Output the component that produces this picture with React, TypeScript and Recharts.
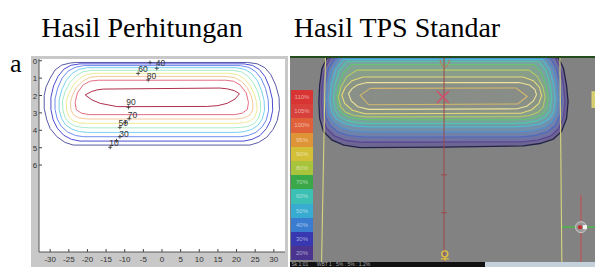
import React from 'react';
import { ScatterChart, Scatter, XAxis, YAxis, CartesianGrid, ReferenceLine, ReferenceArea } from 'recharts';

type Pt = [number, number];

// ---------- left panel: calculated isodose (%), lateral cm vs depth cm ----------
const calcLevels = [10, 20, 30, 40, 50, 60, 70, 80, 90];

const calc10: Pt[] = [[-23, 0.1], [23, 0.1], [25.6, 0.18], [27.6, 0.4], [29.2, 0.8], [30.5, 1.4], [31.4, 2.1], [31.5, 2.8], [30.9, 3.45], [29.8, 3.95], [28.1, 4.4], [25.9, 4.7], [23.6, 4.85], [-23.8, 4.85], [-26, 4.7], [-28.2, 4.37], [-30, 3.9], [-30.9, 3.4], [-31.6, 2.75], [-31.6, 2], [-31.1, 1.5], [-30, 1], [-28.7, 0.53], [-26.9, 0.25], [-24.6, 0.13], [-23, 0.1]];
const calc20: Pt[] = [[-22, 0.18], [22, 0.18], [24.3, 0.27], [26.1, 0.5], [27.6, 0.9], [28.8, 1.5], [29.6, 2.2], [29.7, 2.85], [29.1, 3.45], [28, 3.9], [26.3, 4.3], [24.2, 4.52], [22, 4.62], [-22, 4.62], [-24.3, 4.52], [-26.4, 4.28], [-28.1, 3.88], [-29.2, 3.4], [-29.8, 2.8], [-29.8, 2.1], [-29.1, 1.45], [-27.9, 0.9], [-26.3, 0.48], [-24.4, 0.26], [-22, 0.18]];
const calc30: Pt[] = [[-21, 0.28], [21, 0.28], [23.3, 0.38], [25.1, 0.62], [26.6, 1.02], [27.8, 1.6], [28.5, 2.25], [28.6, 2.85], [28, 3.4], [26.9, 3.8], [25.2, 4.12], [23.1, 4.3], [21, 4.37], [-21, 4.37], [-23.2, 4.3], [-25.3, 4.1], [-27, 3.78], [-28.1, 3.35], [-28.7, 2.8], [-28.7, 2.2], [-28, 1.58], [-26.8, 1], [-25.2, 0.6], [-23.3, 0.38], [-21, 0.28]];
const calc40: Pt[] = [[-20, 0.4], [20, 0.4], [22.3, 0.5], [24.1, 0.75], [25.6, 1.15], [26.7, 1.7], [27.4, 2.3], [27.5, 2.85], [26.9, 3.35], [25.8, 3.7], [24.1, 3.95], [22, 4.08], [20, 4.12], [-20, 4.12], [-22.1, 4.08], [-24.2, 3.93], [-25.9, 3.68], [-27, 3.3], [-27.6, 2.82], [-27.6, 2.25], [-26.9, 1.68], [-25.7, 1.13], [-24.1, 0.73], [-22.3, 0.5], [-20, 0.4]];
const calc50: Pt[] = [[-19, 0.55], [19, 0.55], [21.3, 0.64], [23.1, 0.9], [24.6, 1.3], [25.7, 1.8], [26.4, 2.35], [26.5, 2.85], [25.9, 3.3], [24.8, 3.6], [23.1, 3.78], [21, 3.84], [19, 3.86], [-19, 3.86], [-21.1, 3.84], [-23.2, 3.77], [-24.9, 3.58], [-26, 3.27], [-26.6, 2.83], [-26.7, 2.3], [-26, 1.78], [-24.8, 1.28], [-23.1, 0.88], [-21.3, 0.64], [-19, 0.55]];
const calc60: Pt[] = [[-18, 0.72], [18, 0.72], [20.3, 0.8], [22.1, 1.04], [23.6, 1.42], [24.7, 1.9], [25.4, 2.4], [25.5, 2.85], [24.9, 3.22], [23.8, 3.45], [22.1, 3.56], [20, 3.6], [-20, 3.6], [-22.1, 3.57], [-23.9, 3.45], [-25, 3.2], [-25.6, 2.83], [-25.7, 2.35], [-25, 1.88], [-23.8, 1.4], [-22.1, 1.02], [-20.3, 0.8], [-18, 0.72]];
const calc70: Pt[] = [[-17, 0.9], [17, 0.9], [19.5, 0.97], [21.4, 1.2], [22.9, 1.55], [23.9, 2], [24.4, 2.45], [24.3, 2.85], [23.6, 3.12], [22.2, 3.28], [20, 3.35], [-20, 3.35], [-22.3, 3.29], [-23.7, 3.12], [-24.4, 2.85], [-24.6, 2.42], [-24, 1.98], [-22.9, 1.52], [-21.3, 1.18], [-19.4, 0.96], [-17, 0.9]];
const calc80: Pt[] = [[-17, 1.12], [17, 1.12], [19.2, 1.18], [21, 1.4], [22.6, 1.85], [23.2, 2.4], [22.9, 2.8], [21.5, 3.02], [19.5, 3.1], [-19.5, 3.1], [-21.6, 3.02], [-23, 2.82], [-23.3, 2.4], [-22.7, 1.85], [-21.1, 1.38], [-19.2, 1.17], [-17, 1.12]];
const calc90: Pt[] = [[-15.8, 1.63], [15.5, 1.57], [17.6, 1.62], [19.4, 1.72], [20.8, 1.9], [19.6, 2.2], [17.5, 2.45], [15, 2.58], [12, 2.63], [-12, 2.64], [-16.6, 2.45], [-18.8, 2.25], [-20.6, 1.97], [-19, 1.78], [-17.5, 1.68], [-15.8, 1.63]];
const calcContours = [calc10, calc20, calc30, calc40, calc50, calc60, calc70, calc80, calc90];

// clabel text + the little "+" markers
const calcLabelText = ['40', '60', '80', '90', '70', '50', '30', '10'];
const calcLabelX = [-0.4, -5.1, -2.8, -8.3, -7.9, -10.4, -10.2, -12.9];
const calcLabelY = [0.12, 0.48, 0.88, 2.39, 3.14, 3.56, 4.21, 4.71];
const calcMarks: Pt[] = [[-1.4, 0.44], [-3.2, 0.1], [-6.4, 0.73], [-3.7, 1.1], [-9, 2.68], [-8.8, 3.33], [-9.8, 3.55], [-11.3, 3.83], [-11.3, 4.37], [-12.2, 4.6], [-13.9, 4.98]];

const xTicks = [-30, -25, -20, -15, -10, -5, 0, 5, 10, 15, 20, 25, 30];
const yTicks = [0, 1, 2, 3, 4, 5, 6];

// ---------- right panel: TPS screenshot ----------
const tps1: Pt[] = [[-29.7, 0], [29.6, 0], [30.9, 0.6], [31.7, 1.56], [32.1, 2.5], [31.7, 3.45], [30.4, 4.2], [28.3, 4.62], [24.9, 4.87], [20.6, 5], [0, 5.08], [-21.2, 5.1], [-25.4, 4.96], [-28.4, 4.68], [-30.6, 4.2], [-31.6, 3.45], [-31.8, 2.5], [-31.6, 1.56], [-31, 0.61], [-29.7, 0]];
const tps2: Pt[] = [[-28.8, 0], [28.8, 0], [30.1, 0.6], [30.9, 1.56], [31.3, 2.5], [30.9, 3.4], [29.6, 4.05], [27.6, 4.45], [24.3, 4.68], [20.2, 4.78], [-20.8, 4.8], [-24.8, 4.7], [-27.7, 4.45], [-29.8, 4.02], [-30.8, 3.4], [-31.1, 2.5], [-30.9, 1.56], [-30.3, 0.62], [-28.8, 0]];
const tps3: Pt[] = [[-27.6, 0.02], [27.6, 0.02], [29.1, 0.6], [30, 1.5], [30.4, 2.45], [30, 3.3], [28.8, 3.85], [26.8, 4.2], [23.5, 4.42], [19.6, 4.5], [-20.2, 4.5], [-24.2, 4.42], [-27, 4.2], [-29, 3.82], [-30.1, 3.3], [-30.4, 2.45], [-30.1, 1.5], [-29.3, 0.62], [-27.6, 0.02]];
const tps4: Pt[] = [[-26.6, 0.05], [26.6, 0.05], [28.2, 0.62], [29.2, 1.5], [29.6, 2.4], [29.2, 3.2], [28, 3.65], [26, 3.98], [22.8, 4.16], [19, 4.22], [-19.6, 4.22], [-23.4, 4.15], [-26.2, 3.97], [-28.2, 3.63], [-29.3, 3.18], [-29.8, 2.4], [-29.4, 1.5], [-28.4, 0.64], [-26.6, 0.05]];
const tps5: Pt[] = [[-25.6, 0.1], [25.6, 0.1], [27.3, 0.65], [28.4, 1.5], [28.8, 2.35], [28.4, 3.08], [27.2, 3.48], [25.2, 3.75], [22, 3.88], [18.4, 3.93], [-19, 3.93], [-22.6, 3.87], [-25.4, 3.73], [-27.4, 3.46], [-28.5, 3.06], [-29, 2.35], [-28.6, 1.5], [-27.5, 0.68], [-25.6, 0.1]];
const tps6: Pt[] = [[-24.6, 0.2], [24.6, 0.2], [26.4, 0.72], [27.5, 1.52], [27.9, 2.3], [27.5, 2.98], [26.3, 3.35], [24.3, 3.58], [21.3, 3.7], [17.8, 3.73], [-18.4, 3.73], [-21.9, 3.7], [-24.6, 3.57], [-26.6, 3.33], [-27.7, 2.96], [-28.1, 2.3], [-27.7, 1.52], [-26.6, 0.74], [-24.6, 0.2]];
const tps7: Pt[] = [[-23.4, 0.38], [23.4, 0.38], [25.3, 0.85], [26.5, 1.58], [27, 2.28], [26.6, 2.9], [25.4, 3.22], [23.4, 3.42], [20.6, 3.51], [17.2, 3.53], [-17.8, 3.53], [-21.1, 3.5], [-23.8, 3.4], [-25.7, 3.2], [-26.8, 2.88], [-27.2, 2.27], [-26.7, 1.58], [-25.6, 0.88], [-23.4, 0.38]];
const tps8: Pt[] = [[-22, 0.7], [22, 0.7], [24.2, 1.05], [25.6, 1.65], [26.2, 2.25], [25.7, 2.8], [24.4, 3.1], [22.2, 3.28], [19.5, 3.35], [-19.8, 3.36], [-22.8, 3.28], [-25, 3.08], [-26.2, 2.78], [-26.8, 2.25], [-26.1, 1.65], [-24.6, 1.07], [-22, 0.7]];
const tps9: Pt[] = [[-20.5, 1.09], [20.5, 1.09], [23.2, 1.3], [24.8, 1.7], [25.3, 2.15], [24.6, 2.6], [22.8, 2.95], [20, 3.15], [-20, 3.18], [-23.2, 2.98], [-25.2, 2.6], [-25.9, 2.13], [-25.1, 1.7], [-23.3, 1.3], [-20.5, 1.09]];
const tps10: Pt[] = [[-19.5, 1.41], [19.5, 1.41], [22.2, 1.55], [23.6, 1.8], [24, 2.1], [23.2, 2.45], [21.5, 2.75], [19, 2.9], [-19, 2.93], [-21.8, 2.78], [-23.5, 2.45], [-24.2, 2.04], [-23.3, 1.75], [-21.9, 1.55], [-19.5, 1.41]];
const tps11: Pt[] = [[-18.6, 1.74], [18.8, 1.72], [21.6, 2.2], [19.2, 2.62], [-19, 2.67], [-21.2, 2.13], [-18.6, 1.74]];
const tpsContours = [tps1, tps2, tps3, tps4, tps5, tps6, tps7, tps8, tps9, tps10, tps11];

// field edges, central axis, markers
const fieldLeft: Pt[] = [[-30.1, -0.1], [-31.1, 11.6]];
const fieldRight: Pt[] = [[30, -0.1], [30.5, 11.6]];
const centralAxis: Pt[] = [[0.3, -0.1], [0.3, 11.6]];
const axisTickDepths = [6.65, 8.8];
const isocenter: Pt[] = [[0, 2.23]];
const topArc: Pt[] = [[0.5, 0.1]];
const pointP: Pt[] = [[0.5, 11.25]];
const crossMarker: Pt[] = [[35.4, 9.62]];

const legendLabels = ['110%', '105%', '100%', '95%', '90%', '80%', '70%', '60%', '50%', '40%', '30%', '20%'];

// ---------- styles ----------
const calcColors = ['#5a5aa6', '#4c4cd2', '#6c8cf0', '#78d2ee', '#a6ecc8', '#ecec96', '#f4c898', '#e46c82', '#b02e4e'];
const tpsStroke = ['#22224a', '#5c4696', '#4c66c4', '#4e90d4', '#4cbcd4', '#50c8b0', '#64c470', '#b4cc64', '#e6da78', '#eee29a', '#d4b86c'];
const tpsFill = ['#6e6692', '#7073a2', '#7082a9', '#7191ac', '#719da9', '#77a3a0', '#82a392', '#889d8a', '#8a9587', '#889087', '#888d87'];
const legendColors = ['#d83434', '#d8403c', '#e0603a', '#e09438', '#d4c038', '#a8c43c', '#3aa848', '#3cc0b4', '#38acd0', '#3a7cd0', '#3838b0', '#4a3490'];

const toXY = (pts: Pt[]) => pts.map(([x, y]) => ({ x, y }));
const calcLabels = calcLabelText.map((label, i) => ({ x: calcLabelX[i], y: calcLabelY[i], label }));

const NoDot = () => <g />;
const tickFont = { fontFamily: 'Liberation Sans, Arial, sans-serif', fontSize: 8, fill: '#333' };

const BottomTick = (p: any) => (
  <g>
    <line x1={p.x} x2={p.x} y1={p.y} y2={p.y - 3} stroke="#444" />
    <text x={p.x} y={p.y + 10} textAnchor="middle" {...tickFont}>{p.payload.value}</text>
  </g>
);
const TopTick = (p: any) => <line x1={p.x} x2={p.x} y1={p.y} y2={p.y + 3} stroke="#444" />;
const LeftTick = (p: any) => (
  <g>
    <line x1={p.x} x2={p.x + 3} y1={p.y} y2={p.y} stroke="#444" />
    <text x={p.x - 4} y={p.y + 3} textAnchor="middle" {...tickFont}>{p.payload.value}</text>
  </g>
);
const RightTick = (p: any) => <line x1={p.x} x2={p.x - 3} y1={p.y} y2={p.y} stroke="#444" />;

const LabelText = (p: any) => (
  <text x={p.cx} y={p.cy + 3} textAnchor="middle" fontFamily="Liberation Sans, Arial, sans-serif" fontSize={8.5} fill="#333">
    {p.payload.label}
  </text>
);
const PlusMark = (p: any) => (
  <path d={`M${p.cx - 2},${p.cy}H${p.cx + 2}M${p.cx},${p.cy - 2}V${p.cy + 2}`} stroke="#333" strokeWidth={0.8} />
);
const XMark = (p: any) => (
  <path d={`M${p.cx - 6},${p.cy - 6}L${p.cx + 6},${p.cy + 6}M${p.cx + 6},${p.cy - 6}L${p.cx - 6},${p.cy + 6}`} stroke="#d0506a" strokeWidth={1.6} />
);
const ArcMark = (p: any) => (
  <path d={`M${p.cx - 5},${p.cy}Q${p.cx},${p.cy + 16} ${p.cx + 5},${p.cy}`} fill="none" stroke="#b87850" strokeWidth={1} />
);
const PMark = (p: any) => (
  <g fill="none" stroke="#e0c040" strokeWidth={1.4}>
    <circle cx={p.cx} cy={p.cy - 2} r={3} />
    <path d={`M${p.cx - 4},${p.cy + 3}H${p.cx + 4}M${p.cx},${p.cy + 1}V${p.cy + 5}`} />
  </g>
);
const AxisTick = (p: any) => <line x1={p.cx - 3} x2={p.cx + 3} y1={p.cy} y2={p.cy} stroke="#a04848" />;
const CrossMarker = (p: any) => (
  <g>
    <circle cx={p.cx} cy={p.cy} r={5.5} fill="#9a9a9a" stroke="#c8c8c8" />
    <circle cx={p.cx - 1} cy={p.cy} r={2.2} fill="#c03030" />
    <rect x={p.cx + 2} y={p.cy - 2} width={4} height={4} fill="#f4f4f4" />
  </g>
);

const serif = 'Liberation Serif, Times New Roman, serif';

export default function App() {
  return (
    <div style={{ position: 'absolute', left: 0, top: 0, width: 595, height: 267, background: '#fff', overflow: 'hidden' }}>
      <div style={{ position: 'absolute', left: 142, top: 14, transform: 'translateX(-50%)', whiteSpace: 'nowrap', fontFamily: serif, fontSize: 28, lineHeight: '28px', color: '#000' }}>
        Hasil Perhitungan
      </div>
      <div style={{ position: 'absolute', left: 397, top: 14, transform: 'translateX(-50%)', whiteSpace: 'nowrap', fontFamily: serif, fontSize: 28, lineHeight: '28px', color: '#000' }}>
        Hasil TPS Standar
      </div>
      <div style={{ position: 'absolute', left: 10, top: 51, fontFamily: serif, fontSize: 26, lineHeight: '26px', color: '#000' }}>
        a
      </div>

      {/* left: calculated contours */}
      <div style={{ position: 'absolute', left: 31, top: 56, width: 257, height: 211, background: '#c8c8c8' }}>
        <ScatterChart width={257} height={211} margin={{ top: 3, right: 3, bottom: 0, left: 0 }}>
          <CartesianGrid fill="#ffffff" horizontal={false} vertical={false} />
          <XAxis type="number" dataKey="x" domain={[-33, 33]} allowDataOverflow ticks={xTicks} interval={0} height={15} tickSize={0} tickMargin={0} tick={BottomTick} axisLine={{ stroke: '#555' }} />
          <XAxis xAxisId="top" orientation="top" type="number" domain={[-33, 33]} allowDataOverflow ticks={xTicks} interval={0} height={0} tickSize={0} tickMargin={0} tick={TopTick} axisLine={{ stroke: '#555' }} />
          <YAxis type="number" dataKey="y" domain={[-0.1, 11]} reversed allowDataOverflow ticks={yTicks} interval={0} width={8} tickSize={0} tickMargin={0} tick={LeftTick} axisLine={{ stroke: '#555' }} />
          <YAxis yAxisId="right" orientation="right" type="number" domain={[-0.1, 11]} reversed allowDataOverflow ticks={yTicks} interval={0} width={0} tickSize={0} tickMargin={0} tick={RightTick} axisLine={{ stroke: '#555' }} />
          {calcContours.map((c, i) => (
            <Scatter key={calcLevels[i]} data={toXY(c)} shape={NoDot} line={{ stroke: calcColors[i], strokeWidth: 1 }} isAnimationActive={false} />
          ))}
          <Scatter data={toXY(calcMarks)} shape={PlusMark} isAnimationActive={false} />
          <Scatter data={calcLabels} shape={LabelText} isAnimationActive={false} />
        </ScatterChart>
      </div>

      {/* right: TPS screenshot */}
      <div style={{ position: 'absolute', left: 290, top: 56, width: 305, height: 206, background: '#828282' }}>
        <ScatterChart width={305} height={206} margin={{ top: 0, right: 0, bottom: 0, left: 0 }}>
          <XAxis type="number" dataKey="x" domain={[-39.2, 39]} allowDataOverflow hide />
          <YAxis type="number" dataKey="y" domain={[-0.1, 11.6]} reversed allowDataOverflow hide />
          <ReferenceLine segment={[{ x: 35.4, y: 7.8 }, { x: 35.4, y: 11.6 }]} stroke="#cc4a4a" strokeWidth={1} />
          <ReferenceLine segment={[{ x: 30.6, y: 9.62 }, { x: 39, y: 9.62 }]} stroke="#3cc43c" strokeWidth={1.2} />
          <ReferenceArea x1={38.1} x2={39} y1={1.9} y2={2.85} fill="#d8d070" fillOpacity={1} stroke="none" />
          {tpsContours.map((c, i) => (
            <Scatter key={i} data={toXY(c)} shape={NoDot} line={{ stroke: tpsStroke[i], strokeWidth: i < 2 ? 1.3 : 1.1, fill: tpsFill[i] }} isAnimationActive={false} />
          ))}
          <Scatter data={toXY(fieldLeft)} shape={NoDot} line={{ stroke: '#d6d47c', strokeWidth: 1.1 }} isAnimationActive={false} />
          <Scatter data={toXY(fieldRight)} shape={NoDot} line={{ stroke: '#d6d47c', strokeWidth: 1.1 }} isAnimationActive={false} />
          <Scatter data={toXY(centralAxis)} shape={NoDot} line={{ stroke: '#a04848', strokeWidth: 1 }} isAnimationActive={false} />
          <Scatter data={axisTickDepths.map((y) => ({ x: 0.3, y }))} shape={AxisTick} isAnimationActive={false} />
          <Scatter data={toXY(topArc)} shape={ArcMark} isAnimationActive={false} />
          <Scatter data={toXY(isocenter)} shape={XMark} isAnimationActive={false} />
          <Scatter data={toXY(pointP)} shape={PMark} isAnimationActive={false} />
          <Scatter data={toXY(crossMarker)} shape={CrossMarker} isAnimationActive={false} />
        </ScatterChart>
        {/* dose legend */}
        <div style={{ position: 'absolute', left: 1, top: 34, width: 22 }}>
          {legendLabels.map((l, i) => (
            <div key={l} style={{ height: 14.2, background: legendColors[i], color: 'rgba(255,255,255,0.55)', fontFamily: 'Liberation Sans, Arial, sans-serif', fontSize: 6, lineHeight: '14px', textAlign: 'center' }}>
              {l}
            </div>
          ))}
        </div>
        <div style={{ position: 'absolute', left: 0, top: 0, width: 305, height: 2, background: '#244c1c' }} />
      </div>

      {/* status bar */}
      <div style={{ position: 'absolute', left: 290, top: 262, width: 195, height: 5, background: '#111', color: '#aaa', fontFamily: 'Liberation Sans, Arial, sans-serif', fontSize: 5, lineHeight: '5px', whiteSpace: 'nowrap', overflow: 'hidden' }}>
        &nbsp;Sk 1:01&nbsp;&nbsp;&nbsp;&nbsp;&nbsp;&nbsp;WBT 1 : 5% : 5% : 1.2%
      </div>
      <div style={{ position: 'absolute', left: 485, top: 262, width: 110, height: 5, background: '#c4d0dc' }} />
    </div>
  );
}
